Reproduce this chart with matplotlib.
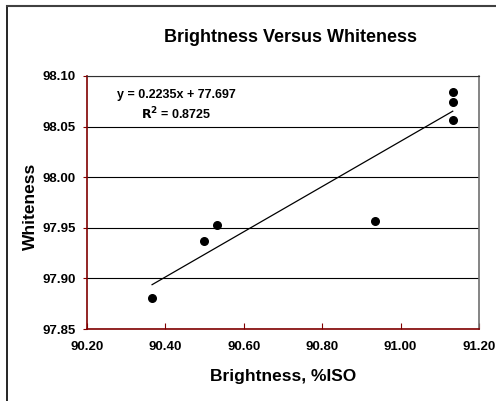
import numpy as np
import matplotlib.pyplot as plt
from matplotlib.lines import Line2D

plt.rcParams['font.family'] = ['Liberation Sans', 'DejaVu Sans']
plt.rcParams['font.weight'] = 'bold'

# data
brightness = [90.366, 90.499, 90.532, 90.934, 91.133, 91.133, 91.133]
whiteness = [97.881, 97.937, 97.953, 97.957, 98.084, 98.074, 98.057]

# trendline from the label
slope = 0.2235
intercept = 77.697
r_squared = 0.8725

x_ticks = [90.20, 90.40, 90.60, 90.80, 91.00, 91.20]
y_ticks = [97.85, 97.90, 97.95, 98.00, 98.05, 98.10]

fig = plt.figure(figsize=(4.96, 4.01), dpi=100)
ax = fig.add_axes([87 / 496, 1 - 329 / 401, 392 / 496, 253 / 401])

# outer chart frame (only left and top edges visible)
fig.add_artist(Line2D([7 / 496, 7 / 496], [0, 1 - 6 / 401], transform=fig.transFigure, color='black', lw=1.2))
fig.add_artist(Line2D([7 / 496, 1], [1 - 6 / 401, 1 - 6 / 401], transform=fig.transFigure, color='#404040', lw=1.5))

ax.set_xlim(90.20, 91.20)
ax.set_ylim(97.85, 98.10)
ax.set_xticks(x_ticks)
ax.set_yticks(y_ticks)
ax.set_xticklabels(['%.2f' % v for v in x_ticks])
ax.set_yticklabels(['%.2f' % v for v in y_ticks])

ax.grid(axis='y', color='black', lw=0.8)
ax.set_axisbelow(True)

ax.spines['left'].set_color('#800000')
ax.spines['bottom'].set_color('#800000')
ax.spines['left'].set_linewidth(1.2)
ax.spines['bottom'].set_linewidth(1.2)
ax.spines['top'].set_color('#303030')
ax.spines['right'].set_color('#707070')
ax.spines['right'].set_linewidth(1.2)

ax.tick_params(axis='x', direction='in', length=4, color='#800000', labelsize=9.5, pad=9)
ax.tick_params(axis='y', direction='out', length=3, color='#800000', labelsize=9.5, pad=5)

ax.scatter(brightness, whiteness, s=30, color='black', zorder=3)

xs = np.array([min(brightness), max(brightness)])
ax.plot(xs, slope * xs + intercept, color='black', lw=0.9, zorder=2)

ax.text(176 / 496, 1 - 95 / 401, 'y = %.4fx + %.3f' % (slope, intercept), transform=fig.transFigure,
        ha='center', va='center', fontsize=9, fontweight='bold')
ax.text(176 / 496, 1 - 114 / 401, '$\\mathbf{R^2}$ = %.4f' % r_squared, transform=fig.transFigure,
        ha='center', va='center', fontsize=9, fontweight='bold')

fig.text(290 / 496, 1 - 37 / 401, 'Brightness Versus Whiteness', ha='center', va='center',
         fontsize=13, fontweight='bold')
fig.text(283 / 496, 1 - 377 / 401, 'Brightness, %ISO', ha='center', va='center',
         fontsize=12.5, fontweight='bold')
fig.text(30 / 496, 1 - 206 / 401, 'Whiteness', ha='center', va='center', rotation=90,
         fontsize=12.5, fontweight='bold')

fig.savefig('out.png', dpi=100)
